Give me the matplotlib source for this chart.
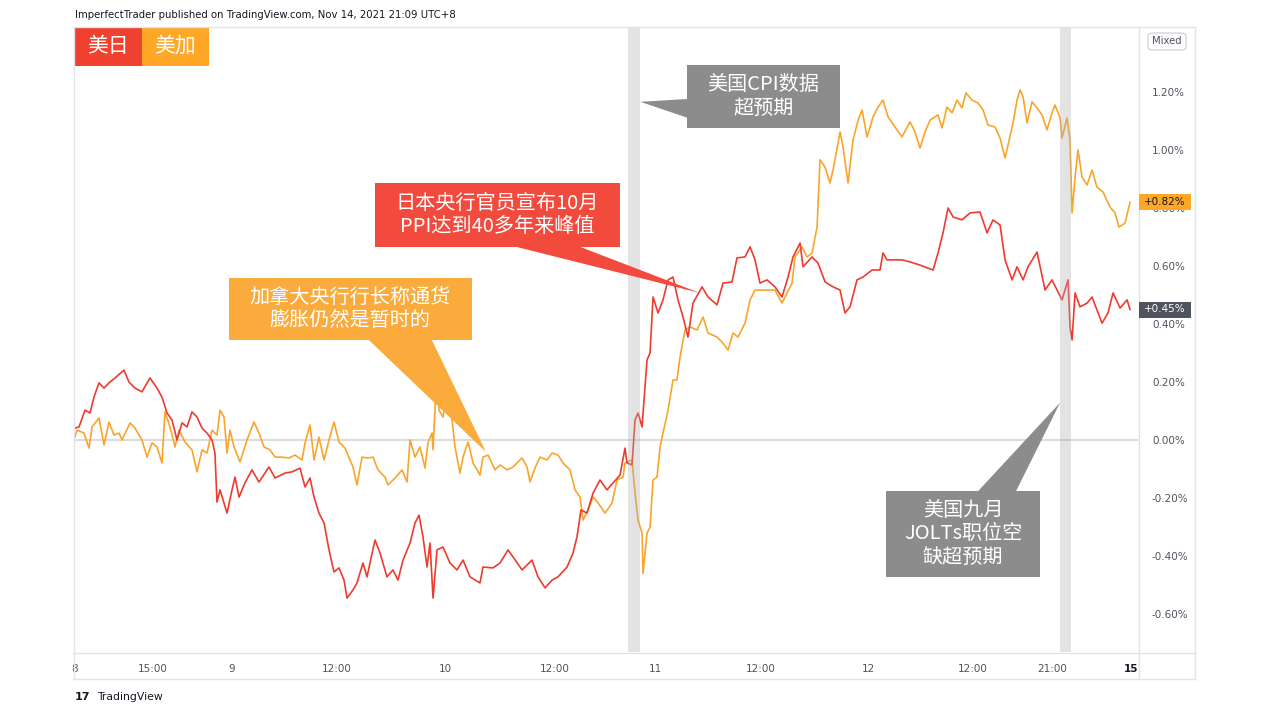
import matplotlib
matplotlib.use("Agg")
import matplotlib.pyplot as plt
from matplotlib.patches import Rectangle, Polygon, FancyBboxPatch

# hours since the first bar (Nov 8, 06:00 UTC+8), change in %
jpy_t = [0.0, 0.45, 1.13, 1.69, 2.14, 2.70, 3.27, 3.83, 4.51, 5.52, 6.08, 6.76, 7.55, 8.45, 9.24,
         9.80, 10.37, 10.93, 11.49, 12.06, 12.62, 13.18, 13.75, 14.31, 14.87, 15.44, 15.77, 16.00,
         16.34, 17.13, 17.69, 18.03, 18.48, 19.15, 19.94, 20.73, 21.86, 22.54, 23.66, 24.45, 25.35,
         25.92, 26.48, 26.93, 27.49, 28.06, 28.62, 29.18, 29.75, 30.31, 30.65, 31.32, 31.77, 32.45,
         32.90, 33.80, 34.37, 35.15, 35.83, 36.39, 36.96, 37.75, 38.31, 38.76, 39.21, 39.66, 40.00,
         40.34, 40.79, 41.46, 42.25, 43.04, 43.72, 44.51, 45.63, 45.97, 47.10, 47.89, 48.79, 49.35,
         50.37, 51.49, 52.17, 52.96, 53.75, 54.42, 55.44, 56.11, 56.56, 57.01, 57.69, 58.37, 59.15,
         59.94, 60.62, 61.41, 61.97, 62.20, 62.76, 63.10, 63.44, 63.89, 64.45, 64.79, 65.13, 65.69,
         66.25, 66.82, 67.38, 67.94, 68.51, 69.07, 69.63, 70.65, 71.32, 72.34, 73.01, 74.03, 74.59,
         75.49, 76.06, 76.62, 77.18, 77.97, 78.87, 79.66, 80.34, 80.90, 81.69, 82.03, 83.04, 83.72,
         84.51, 85.41, 86.20, 86.76, 87.32, 88.11, 88.79, 89.80, 90.70, 91.04, 91.49, 92.17, 93.18,
         94.08, 95.21, 96.68, 97.24, 97.80, 98.37, 98.93, 99.94, 100.85, 101.97, 102.76, 103.44,
         104.23, 104.79, 105.58, 106.14, 106.82, 107.38, 108.39, 109.30, 110.08, 111.21, 111.89,
         112.11, 112.34, 112.68, 113.24, 114.03, 114.59, 115.15, 115.72, 116.39, 116.96, 117.75,
         118.54, 118.87]
jpy_v = [0.041, 0.045, 0.103, 0.093, 0.148, 0.197, 0.179, 0.197, 0.214, 0.241, 0.200, 0.179, 0.166,
         0.214, 0.179, 0.148, 0.093, 0.069, 0.000, 0.059, 0.045, 0.097, 0.079, 0.041, 0.024, 0.000,
         -0.045, -0.214, -0.172, -0.252, -0.172, -0.128, -0.197, -0.148, -0.103, -0.145, -0.093,
         -0.131, -0.114, -0.110, -0.097, -0.162, -0.131, -0.197, -0.252, -0.286, -0.379, -0.455,
         -0.441, -0.483, -0.545, -0.517, -0.493, -0.424, -0.472, -0.345, -0.390, -0.472, -0.448,
         -0.483, -0.414, -0.355, -0.286, -0.259, -0.334, -0.438, -0.355, -0.545, -0.379, -0.369,
         -0.424, -0.448, -0.414, -0.472, -0.493, -0.438, -0.441, -0.424, -0.379, -0.403, -0.448,
         -0.414, -0.472, -0.510, -0.483, -0.472, -0.438, -0.390, -0.334, -0.241, -0.252, -0.183,
         -0.138, -0.172, -0.148, -0.121, -0.028, -0.079, -0.086, 0.069, 0.093, 0.045, 0.276, 0.300,
         0.493, 0.438, 0.483, 0.552, 0.562, 0.483, 0.424, 0.355, 0.472, 0.528, 0.493, 0.466, 0.541,
         0.545, 0.628, 0.631, 0.666, 0.621, 0.541, 0.552, 0.528, 0.493, 0.562, 0.631, 0.679, 0.597,
         0.631, 0.610, 0.545, 0.528, 0.517, 0.438, 0.459, 0.552, 0.562, 0.586, 0.586, 0.645, 0.621,
         0.621, 0.621, 0.614, 0.603, 0.586, 0.645, 0.714, 0.800, 0.769, 0.759, 0.783, 0.786, 0.714,
         0.759, 0.741, 0.621, 0.552, 0.597, 0.552, 0.597, 0.648, 0.517, 0.552, 0.483, 0.552, 0.390,
         0.345, 0.507, 0.459, 0.472, 0.493, 0.448, 0.403, 0.438, 0.507, 0.455, 0.483, 0.45]

cad_t = [0.0, 0.23, 1.01, 1.58, 1.92, 2.70, 3.27, 3.83, 4.39, 4.96, 5.30, 6.20, 6.76, 7.55, 8.11,
         8.68, 9.24, 9.80, 10.14, 10.70, 11.27, 11.72, 12.39, 13.18, 13.75, 14.31, 14.87, 15.44,
         16.00, 16.34, 16.79, 17.13, 17.46, 17.92, 18.59, 19.38, 20.17, 20.73, 21.30, 21.97, 22.54,
         23.32, 24.11, 24.79, 25.58, 25.92, 26.48, 26.93, 27.49, 28.06, 28.62, 29.18, 29.75, 30.42,
         31.32, 31.77, 32.34, 33.01, 33.58, 34.14, 34.93, 35.27, 36.06, 36.85, 37.41, 37.75, 38.31,
         38.87, 39.44, 39.77, 40.23, 40.34, 40.79, 41.01, 41.46, 41.92, 42.48, 42.82, 43.38, 43.72,
         44.28, 44.85, 45.63, 45.97, 46.54, 47.32, 47.89, 48.68, 49.35, 50.37, 50.93, 51.27, 51.83,
         52.39, 53.18, 53.75, 54.42, 54.99, 55.77, 56.34, 56.90, 57.24, 57.80, 58.37, 58.93, 59.72,
         60.51, 61.07, 61.75, 61.97, 62.76, 63.10, 63.44, 63.89, 64.00, 64.45, 64.79, 65.13, 65.58,
         65.92, 66.25, 66.82, 67.38, 67.83, 68.17, 68.73, 69.30, 70.08, 70.76, 71.32, 72.34, 73.01,
         73.58, 74.14, 74.70, 75.49, 76.06, 76.62, 77.41, 78.08, 78.87, 79.66, 80.23, 80.79, 81.13,
         81.92, 82.48, 83.04, 83.61, 83.94, 84.51, 85.07, 85.41, 86.20, 86.54, 87.10, 87.66, 88.23,
         88.68, 89.24, 89.92, 90.48, 91.04, 91.61, 92.39, 93.18, 94.08, 94.65, 95.21, 95.77, 96.34,
         97.24, 97.69, 98.25, 98.82, 99.38, 99.94, 100.39, 101.07, 101.75, 102.31, 102.87, 103.66,
         104.23, 104.79, 105.13, 105.69, 106.14, 106.48, 106.82, 107.27, 107.83, 108.39, 108.96,
         109.52, 110.08, 110.42, 110.99, 111.21, 111.77, 112.11, 112.34, 112.68, 113.01, 113.46,
         114.03, 114.59, 115.15, 115.83, 116.62, 117.18, 117.63, 118.31, 118.87]
cad_v = [0.010, 0.034, 0.024, -0.028, 0.045, 0.076, -0.017, 0.062, 0.017, 0.024, 0.000, 0.059,
         0.041, 0.000, -0.059, -0.010, -0.024, -0.079, 0.097, 0.045, -0.024, 0.034, -0.007, -0.034,
         -0.110, -0.034, -0.045, 0.034, 0.017, 0.103, 0.079, -0.045, 0.034, -0.024, -0.076, 0.000,
         0.062, 0.024, -0.024, -0.034, -0.059, -0.059, -0.062, -0.052, -0.069, -0.010, 0.052, -0.069,
         0.010, -0.069, 0.000, 0.062, -0.007, -0.028, -0.093, -0.155, -0.059, -0.062, -0.059, -0.103,
         -0.128, -0.155, -0.131, -0.103, -0.145, 0.000, -0.059, -0.024, -0.097, -0.010, 0.024,
         -0.034, 0.252, 0.103, 0.079, 0.155, 0.069, -0.024, -0.114, -0.059, -0.007, -0.079, -0.121,
         -0.059, -0.052, -0.103, -0.086, -0.103, -0.093, -0.062, -0.093, -0.145, -0.097, -0.059,
         -0.069, -0.045, -0.052, -0.079, -0.103, -0.172, -0.197, -0.276, -0.241, -0.197, -0.217,
         -0.252, -0.217, -0.138, -0.128, -0.079, -0.069, -0.183, -0.276, -0.321, -0.460, -0.321,
         -0.300, -0.138, -0.128, -0.024, 0.024, 0.103, 0.207, 0.207, 0.286, 0.379, 0.390, 0.379,
         0.424, 0.369, 0.355, 0.334, 0.310, 0.369, 0.355, 0.403, 0.483, 0.517, 0.517, 0.517, 0.517,
         0.472, 0.507, 0.541, 0.631, 0.666, 0.631, 0.645, 0.734, 0.966, 0.941, 0.886, 0.931, 1.062,
         1.010, 0.886, 1.034, 1.103, 1.138, 1.045, 1.114, 1.148, 1.172, 1.114, 1.079, 1.045, 1.097,
         1.062, 1.007, 1.062, 1.103, 1.121, 1.076, 1.148, 1.128, 1.172, 1.145, 1.197, 1.172, 1.162,
         1.138, 1.086, 1.079, 1.041, 0.972, 1.017, 1.093, 1.172, 1.207, 1.183, 1.093, 1.166, 1.145,
         1.121, 1.069, 1.128, 1.155, 1.110, 1.041, 1.110, 1.034, 0.783, 0.907, 1.000, 0.907, 0.879,
         0.931, 0.872, 0.855, 0.803, 0.783, 0.734, 0.748, 0.82]

y_ticks = [-0.6, -0.4, -0.2, 0.0, 0.2, 0.4, 0.6, 0.8, 1.0, 1.2]
x_ticks = [0, 8.8, 17.7, 29.5, 41.7, 54.1, 65.4, 77.3, 89.4, 101.1, 110.1, 119.0]
x_labels = ['8', '15:00', '9', '12:00', '10', '12:00', '11', '12:00', '12', '12:00', '21:00', '15']

# news events (start, end of the grey band, hours)
events = [(62.3, 63.7), (111.0, 112.2)]

RED = '#EE3B2F'
ORANGE = '#F9A52B'
CJK = ['Noto Sans CJK SC', 'DejaVu Sans']
W, H = 1269, 714


def fx(px):
    return px / W


def fy(py):
    return 1 - py / H


fig = plt.figure(figsize=(12.69, 7.14), dpi=100)
ax = fig.add_axes([fx(75), fy(652), fx(1138) - fx(75), fy(27) - fy(652)])

ax.plot(jpy_t, jpy_v, color=RED, lw=1.2, zorder=3)
ax.plot(cad_t, cad_v, color=ORANGE, lw=1.2, zorder=2)
ax.axhline(0, color='#d4d4d4', lw=1.2, zorder=1)
for a, b in events:
    ax.axvspan(a, b, color='#afafaf', alpha=0.35, lw=0, zorder=4)

ax.set_xlim(0, 119.77)
ax.set_ylim(-0.731, 1.424)
for s in ax.spines.values():
    s.set_visible(False)

ax.yaxis.tick_right()
ax.set_yticks(y_ticks)
ax.set_yticklabels(['%.2f%%' % v for v in y_ticks])
ax.tick_params(axis='y', length=0, pad=10, labelsize=7.5, labelcolor='#50535e')
for lab in ax.get_yticklabels():
    lab.set_horizontalalignment('left')
ax.set_xticks(x_ticks)
ax.set_xticklabels(x_labels)
ax.tick_params(axis='x', length=0, pad=9, labelsize=7.5, labelcolor='#50535e')
ax.get_xticklabels()[-1].set_fontweight('bold')
ax.get_xticklabels()[-1].set_color('#131722')

# chart frame
frame = '#e0e3eb'
fig.add_artist(plt.Line2D([fx(73), fx(1195)], [fy(27), fy(27)], color=frame, lw=1))
fig.add_artist(plt.Line2D([fx(73), fx(1195)], [fy(679), fy(679)], color=frame, lw=1))
fig.add_artist(plt.Line2D([fx(73), fx(1195)], [fy(652.5), fy(652.5)], color=frame, lw=1))
fig.add_artist(plt.Line2D([fx(73.5), fx(73.5)], [fy(27), fy(679)], color=frame, lw=1))
fig.add_artist(plt.Line2D([fx(1195), fx(1195)], [fy(27), fy(679)], color=frame, lw=1))
fig.add_artist(plt.Line2D([fx(1138.5), fx(1138.5)], [fy(27), fy(679)], color=frame, lw=1))

fig.text(fx(75), fy(15), 'ImperfectTrader published on TradingView.com, Nov 14, 2021 21:09 UTC+8',
         fontsize=7.3, color='#131722', va='center', ha='left')
fig.text(fx(75), fy(697), '17', fontsize=8, fontweight='bold', color='#131722', va='center')
fig.text(fx(97), fy(697), 'TradingView', fontsize=7.8, color='#131722', va='center')

# legend boxes
for (x0, x1), name, col in [((75, 142), '美日', '#F0412F'), ((142, 209), '美加', '#FFA726')]:
    fig.add_artist(Rectangle((fx(x0), fy(66)), fx(x1) - fx(x0), fy(28) - fy(66),
                             transform=fig.transFigure, color=col, lw=0))
    fig.text(fx((x0 + x1) / 2), fy(46), name, family=CJK, fontsize=15, color='white',
             ha='center', va='center')

# last value labels on the price scale
for yc, txt, bg, fg in [(202, '+0.82%', '#FFA726', '#131722'), (309.5, '+0.45%', '#4F535E', 'white')]:
    fig.add_artist(Rectangle((fx(1139), fy(yc + 8)), fx(1191) - fx(1139), fy(yc - 8) - fy(yc + 8),
                             transform=fig.transFigure, color=bg, lw=0, zorder=5))
    fig.text(fx(1165), fy(yc), txt, fontsize=7.5, color=fg, ha='center', va='center', zorder=6)

fig.add_artist(FancyBboxPatch((fx(1148), fy(50)), fx(1186) - fx(1148), fy(33) - fy(50),
                              boxstyle='round,pad=0,rounding_size=0.004', transform=fig.transFigure,
                              facecolor='white', edgecolor='#c9cbd1', lw=0.8))
fig.text(fx(1167), fy(41.5), 'Mixed', fontsize=7.2, color='#50535e', ha='center', va='center')

# callouts: box (h0, h1, v0, v1), wedge points, colour, text
callouts = [
    ((17.35, 44.73, 0.345, 0.559), [(33.1, 0.345), (40.2, 0.345), (46.3, -0.041)], '#FBAB3C',
     '加拿大央行行长称通货\n膨胀仍然是暂时的'),
    ((33.80, 61.41, 0.666, 0.886), [(49.7, 0.666), (56.9, 0.666), (70.4, 0.507)], '#F24B3E',
     '日本央行官员宣布10月\nPPI达到40多年来峰值'),
    ((68.96, 86.20, 1.076, 1.293), [(63.7, 1.166), (69.1, 1.176), (69.1, 1.110)], '#8C8C8C',
     '美国CPI数据\n超预期'),
    ((91.38, 108.73, -0.472, -0.176), [(101.7, -0.178), (106.0, -0.178), (111.0, 0.129)], '#8C8C8C',
     '美国九月\nJOLTs职位空\n缺超预期'),
]
for (h0, h1, v0, v1), wedge, col, txt in callouts:
    ax.add_patch(Rectangle((h0, v0), h1 - h0, v1 - v0, color=col, lw=0, zorder=6))
    ax.add_patch(Polygon(wedge, closed=True, color=col, lw=0, zorder=6))
    ax.text((h0 + h1) / 2, (v0 + v1) / 2, txt, family=CJK, fontsize=14.5, color='white',
            ha='center', va='center', linespacing=1.15, zorder=7)

fig.savefig('out.png', dpi=100)
